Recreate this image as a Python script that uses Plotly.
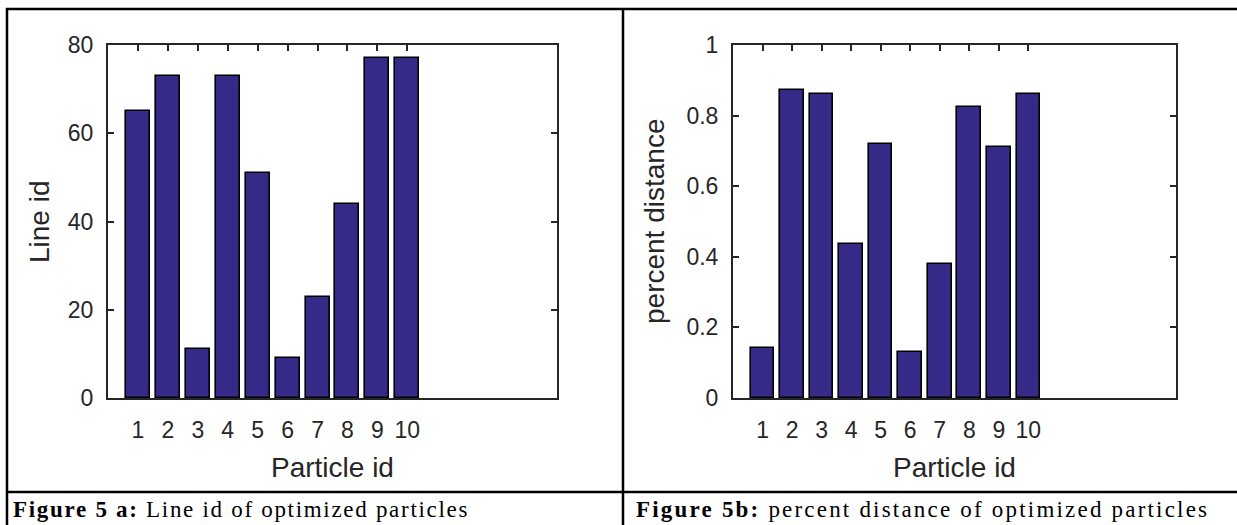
import plotly.graph_objects as go

W, H = 1237, 525

particles = [1, 2, 3, 4, 5, 6, 7, 8, 9, 10]
line_id = [65, 73, 11, 73, 51, 9, 23, 44, 77, 77]
percent_distance = [0.142, 0.872, 0.860, 0.436, 0.719, 0.129, 0.379, 0.823, 0.712, 0.861]

left_yticks = [0, 20, 40, 60, 80]
right_yticks = [0, 0.2, 0.4, 0.6, 0.8, 1]
right_yticklabels = ["0", "0.2", "0.4", "0.6", "0.8", "1"]

caption_a_bold = "Figure 5 a:"
caption_a_text = " Line id of optimized particles"
caption_b_bold = "Figure 5b:"
caption_b_text = " percent distance of optimized particles"

BAR_COLOR = "rgb(53,42,135)"
AX_COLOR = "#262626"
SANS = "Liberation Sans, Arial, sans-serif"
SERIF = "Liberation Serif, Times New Roman, serif"


def px(x):
    return x / W


def py(y):
    return 1 - y / H


fig = go.Figure()
fig.add_trace(go.Bar(x=particles, y=line_id, width=0.8,
                     marker=dict(color=BAR_COLOR, line=dict(color="black", width=1.6)),
                     xaxis="x", yaxis="y", showlegend=False))
fig.add_trace(go.Bar(x=particles, y=percent_distance, width=0.8,
                     marker=dict(color=BAR_COLOR, line=dict(color="black", width=1.6)),
                     xaxis="x2", yaxis="y2", showlegend=False))

ax_common = dict(showline=True, linecolor=AX_COLOR, linewidth=2, mirror="ticks",
                 ticks="inside", ticklen=6, tickwidth=1.5, tickcolor=AX_COLOR,
                 showgrid=False, zeroline=False, layer="below traces",
                 tickfont=dict(family=SANS, size=23, color=AX_COLOR))

fig.update_layout(
    width=W, height=H,
    margin=dict(l=0, r=0, t=0, b=0, pad=0, autoexpand=False),
    paper_bgcolor="white", plot_bgcolor="white",
    bargap=0,
    xaxis=dict(domain=[px(108), px(557)], range=[0, 15], tickvals=particles,
               anchor="y", ticklabelstandoff=10, **ax_common),
    yaxis=dict(domain=[py(398), py(45)], range=[0, 80], tickvals=left_yticks,
               anchor="x", ticklabelstandoff=8, **ax_common),
    xaxis2=dict(domain=[px(733), px(1176)], range=[0, 15], tickvals=particles,
                anchor="y2", ticklabelstandoff=10, **ax_common),
    yaxis2=dict(domain=[py(398), py(45)], range=[0, 1], tickvals=right_yticks,
                ticktext=right_yticklabels, anchor="x2", ticklabelstandoff=8, **ax_common),
)

title_font = dict(family=SANS, size=28, color=AX_COLOR)
ann = []
ann.append(dict(text="Line id", x=px(40), y=py(222), xref="paper", yref="paper",
                textangle=-90, showarrow=False, font=title_font,
                xanchor="center", yanchor="middle"))
ann.append(dict(text="Particle id", x=px(332), y=py(467), xref="paper", yref="paper",
                showarrow=False, font=title_font, xanchor="center", yanchor="middle"))
ann.append(dict(text="percent distance", x=px(655), y=py(222), xref="paper", yref="paper",
                textangle=-90, showarrow=False, font=title_font,
                xanchor="center", yanchor="middle"))
ann.append(dict(text="Particle id", x=px(954), y=py(467), xref="paper", yref="paper",
                showarrow=False, font=title_font, xanchor="center", yanchor="middle"))
cap_font = dict(family=SERIF, size=23, color="black")
ann.append(dict(text='<span style="letter-spacing:1.7px"><b>' + caption_a_bold + "</b>"
                + caption_a_text + "</span>",
                x=px(11), y=py(509), xref="paper", yref="paper", showarrow=False,
                font=cap_font, xanchor="left", yanchor="middle"))
ann.append(dict(text='<span style="letter-spacing:2.2px"><b>' + caption_b_bold + "</b>"
                + caption_b_text + "</span>",
                x=px(634), y=py(509), xref="paper", yref="paper", showarrow=False,
                font=cap_font, xanchor="left", yanchor="middle"))
fig.update_layout(annotations=ann)

border = dict(color="black", width=2.5)
shapes = [
    dict(type="line", xref="paper", yref="paper", x0=px(6), x1=1, y0=py(9), y1=py(9), line=border),
    dict(type="line", xref="paper", yref="paper", x0=px(7), x1=px(7), y0=py(8), y1=0, line=border),
    dict(type="line", xref="paper", yref="paper", x0=px(623), x1=px(623), y0=py(8), y1=0, line=border),
    dict(type="line", xref="paper", yref="paper", x0=px(6), x1=1, y0=py(492), y1=py(492), line=border),
]
fig.update_layout(shapes=shapes)

fig.write_html("out.html", config={"displayModeBar": False},
               post_script="document.body.style.margin='0';")
